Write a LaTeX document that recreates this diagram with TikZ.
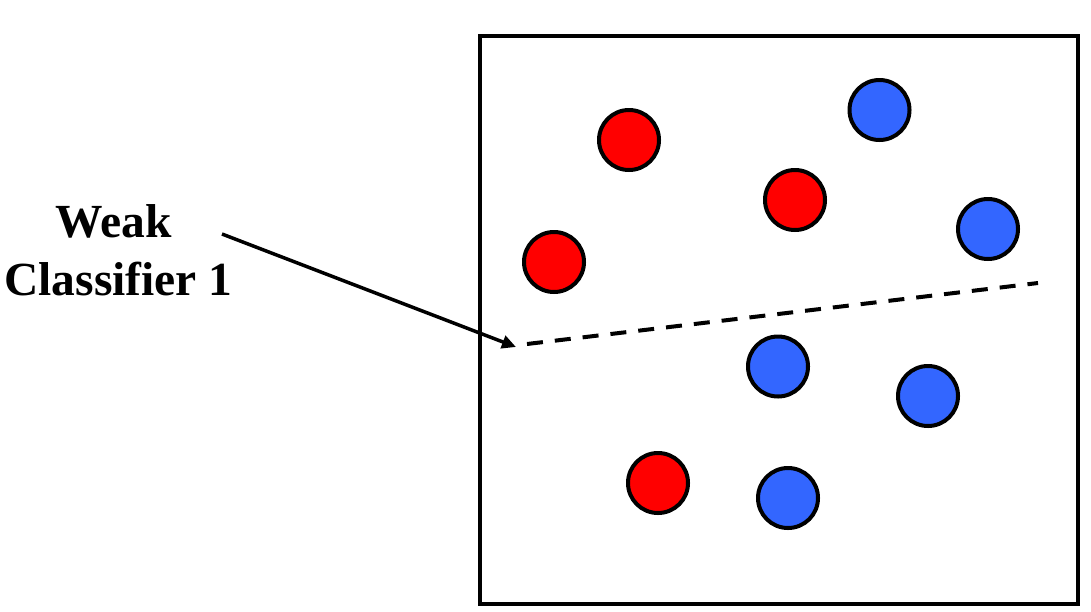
\documentclass[tikz,border=0pt]{standalone}
\usepackage{fontspec}
\setmainfont{Liberation Serif}
\usetikzlibrary{arrows.meta}
\definecolor{ptred}{HTML}{FF0000}
\definecolor{ptblue}{HTML}{3366FF}
\tikzset{
  pt/.style={circle, draw=black, line width=4pt, minimum size=60pt, inner sep=0pt},
  redpt/.style={pt, fill=ptred},
  bluept/.style={pt, fill=ptblue},
  lbl/.style={font=\fontsize{47.5pt}{56pt}\selectfont\bfseries, inner sep=0pt, anchor=base},
}
\begin{document}
\begin{tikzpicture}[x=1pt,y=-1pt]
\useasboundingbox (0,0) rectangle (1091,611);
\node[draw=black, line width=4pt, minimum width=598pt, minimum height=568.5pt, inner sep=0pt] (box) at (778.5,319.75) {};
\node[redpt] (r1) at (629,140) {};
\node[redpt] (r2) at (795,200) {};
\node[redpt] (r3) at (554,262) {};
\node[redpt] (r4) at (658,483) {};
\node[bluept] (b1) at (879.5,110) {};
\node[bluept] (b2) at (988,229) {};
\node[bluept] (b3) at (778,366.5) {};
\node[bluept] (b4) at (928,396) {};
\node[bluept] (b5) at (788,498) {};
\node[lbl] (weak) at (114,237) {Weak};
\node[lbl] (cls) at (118.5,295) {Classifier 1};
\coordinate (as) at (222,234);
\coordinate (ae) at (516,347);
\coordinate (ds) at (527,344);
\coordinate (de) at (1038,283);
\draw[line width=3.5pt, -{Triangle[length=14pt,width=13pt]}] (as) -- (ae);
\draw[line width=4pt, dash pattern=on 16pt off 12pt] (ds) -- (de);
\end{tikzpicture}
\end{document}
